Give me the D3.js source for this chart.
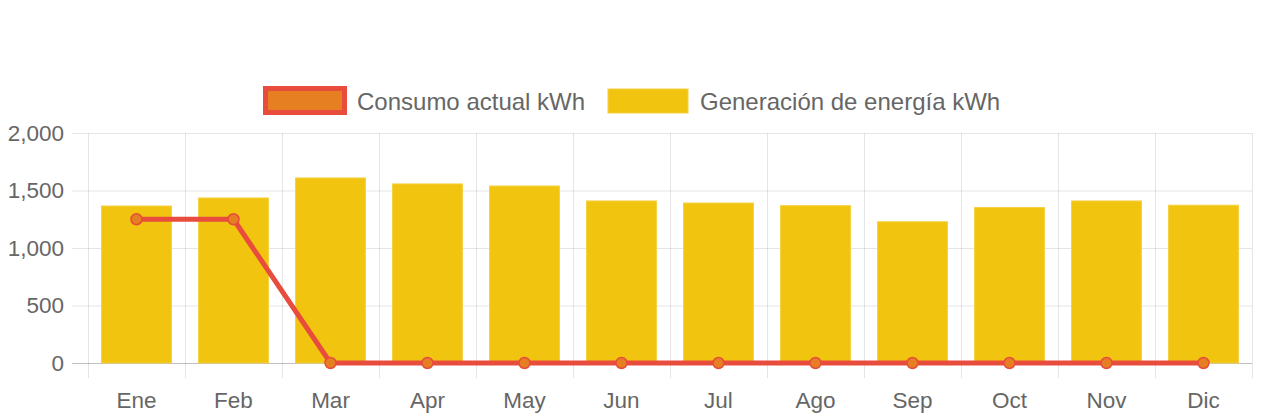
<!DOCTYPE html>
<html><head><meta charset="utf-8">
<script src="https://cdn.jsdelivr.net/npm/d3@7"></script>
<style>body{margin:0;background:#fff}svg{display:block}</style>
</head><body><svg id="c" width="1262" height="420"></svg>
<script>
const months = ["Ene","Feb","Mar","Apr","May","Jun","Jul","Ago","Sep","Oct","Nov","Dic"];
const consumo = [1250,1250,0,0,0,0,0,0,0,0,0,0];
const generacion = [1365,1435,1609,1557,1539,1409,1391,1368,1228,1352,1409,1372];
const yTicks = [0,500,1000,1500,2000];
const legendLabels = ["Consumo actual kWh","Generación de energía kWh"];

const svg = d3.select("#c");
const font = "'Helvetica Neue', 'Liberation Sans', Arial, sans-serif";
const L=88,R=1252,T=133,B=363;
const x = d3.scaleBand().domain(months).range([L,R]);
const y = d3.scaleLinear().domain([0,2000]).range([B,T]);

// horizontal grid
svg.append("g").selectAll("line").data(yTicks).join("line")
  .attr("x1",L-16).attr("x2",R).attr("y1",d=>y(d)+0.5).attr("y2",d=>y(d)+0.5)
  .attr("stroke",d=>d===0?"rgba(0,0,0,0.25)":"rgba(0,0,0,0.1)").attr("stroke-width",1);
// vertical grid
const bounds = months.map(m=>x(m)).concat([R]);
svg.append("g").selectAll("line").data(bounds).join("line")
  .attr("x1",d=>Math.round(d)+0.5).attr("x2",d=>Math.round(d)+0.5).attr("y1",T).attr("y2",B+15)
  .attr("stroke","rgba(0,0,0,0.1)").attr("stroke-width",1);

// y labels
svg.append("g").selectAll("text").data(yTicks).join("text")
  .attr("x",L-24).attr("y",d=>y(d)).attr("dy","0.35em").attr("text-anchor","end")
  .attr("font-family",font).attr("font-size",22.5).attr("fill","#666").text(d=>d3.format(",")(d));
// x labels
svg.append("g").selectAll("text").data(months).join("text")
  .attr("x",d=>x(d)+x.bandwidth()/2).attr("y",400).attr("dy","0.35em").attr("text-anchor","middle")
  .attr("font-family",font).attr("font-size",22.5).attr("fill","#666").text(d=>d);

// bars
const bw = x.bandwidth()*0.72;
svg.append("g").selectAll("rect").data(generacion).join("rect")
  .attr("x",(d,i)=>x(months[i])+x.bandwidth()/2-bw/2).attr("width",bw)
  .attr("y",d=>y(d)).attr("height",d=>B-y(d))
  .attr("fill","#f1c40f").attr("stroke","#f5d040").attr("stroke-width",1);

// line
const line = d3.line().x((d,i)=>x(months[i])+x.bandwidth()/2).y(d=>y(d));
svg.append("path").datum(consumo).attr("d",line).attr("fill","none")
  .attr("stroke","#e74c3c").attr("stroke-width",5).attr("stroke-linejoin","miter");
svg.append("g").selectAll("circle").data(consumo).join("circle")
  .attr("cx",(d,i)=>x(months[i])+x.bandwidth()/2).attr("cy",d=>y(d)).attr("r",5.5)
  .attr("fill","#e67e22").attr("stroke","#e74c3c").attr("stroke-width",1.5);

// legend
const lg = svg.append("g");
lg.append("rect").attr("x",265.5).attr("y",88.5).attr("width",79).attr("height",24)
  .attr("fill","#e67e22").attr("stroke","#e74c3c").attr("stroke-width",5);
lg.append("text").attr("x",357).attr("y",102).attr("dy","0.35em")
  .attr("font-family",font).attr("font-size",24).attr("fill","#666").text(legendLabels[0]);
lg.append("rect").attr("x",608).attr("y",89).attr("width",80).attr("height",24)
  .attr("fill","#f1c40f").attr("stroke","#f5d040").attr("stroke-width",1);
lg.append("text").attr("x",700).attr("y",102).attr("dy","0.35em")
  .attr("font-family",font).attr("font-size",24).attr("fill","#666").text(legendLabels[1]);
</script></body></html>
